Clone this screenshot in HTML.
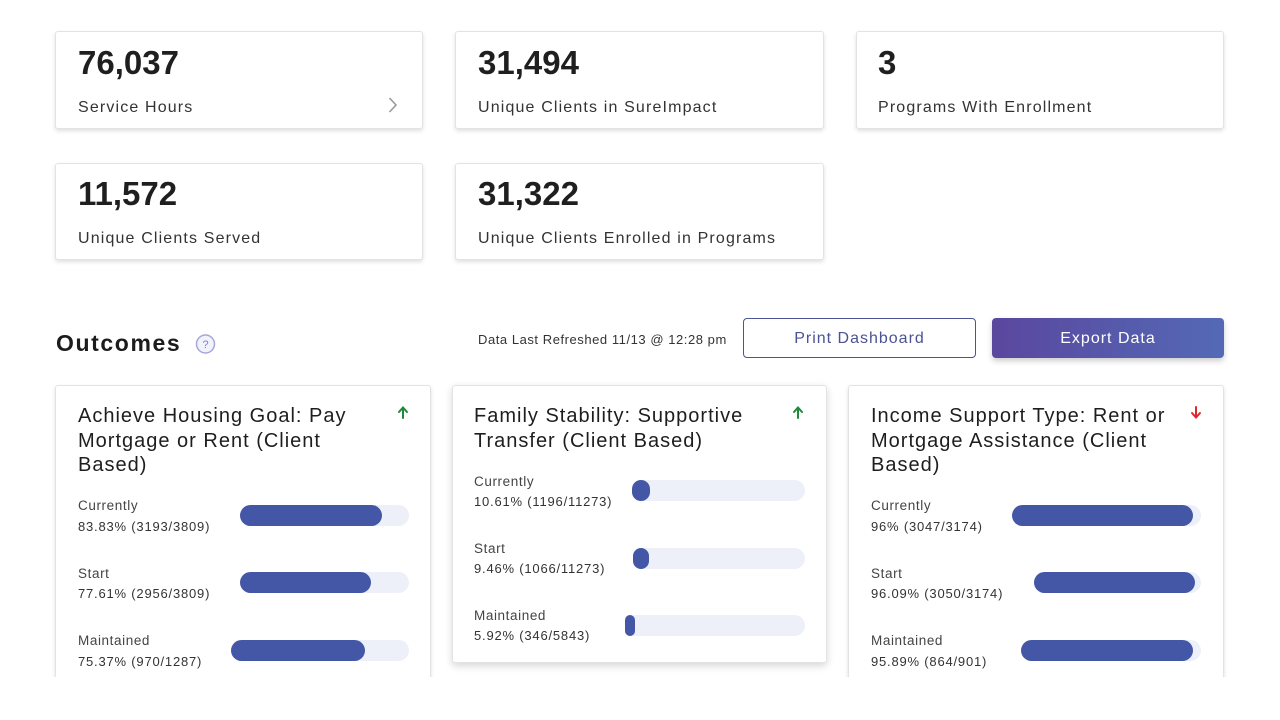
<!DOCTYPE html>
<html>
<head>
<meta charset="utf-8">
<style>
  html, body { margin:0; padding:0; background:#fff; }
  body { width:1280px; height:720px; position:relative; overflow:hidden;
         font-family:"Liberation Sans", sans-serif; color:#2a2a2a; }
  #clip { position:absolute; left:0; top:0; width:1280px; height:677px; overflow:hidden; }
  .card { position:absolute; background:#fff; border:1px solid #e3e3e3; border-radius:3px;
          box-shadow:0 2px 4px rgba(0,0,0,0.13); box-sizing:border-box; }
  .t { position:absolute; white-space:nowrap; line-height:1; }
  .num { font-size:33px; font-weight:bold; color:#1f1f1f; }
  .lbl { font-size:16px; letter-spacing:1.15px; color:#333; }
  .title { position:absolute; white-space:nowrap; font-size:20px; line-height:24.5px; letter-spacing:1px; color:#1e1e1e; }
  .rl { font-size:13.5px; letter-spacing:0.6px; color:#444; }
  .rv { font-size:13px; letter-spacing:0.8px; color:#333; }
  .track { position:absolute; height:21px; border-radius:11px; background:#edf0f8; }
  .fill { position:absolute; left:0; top:0; height:21px; border-radius:11px; background:#4457a6; }
  .btn { position:absolute; top:318px; height:40px; box-sizing:border-box; border-radius:4px;
         display:flex; align-items:center; justify-content:center; font-size:16px; letter-spacing:1px; padding-top:1px; }
</style>
</head>
<body>
<div id="clip">

  <!-- Top stat cards -->
  <div class="card" style="left:55px;top:31px;width:368px;height:98px;"></div>
  <div class="card" style="left:455px;top:31px;width:369px;height:98px;"></div>
  <div class="card" style="left:856px;top:31px;width:368px;height:98px;"></div>
  <div class="card" style="left:55px;top:163px;width:368px;height:97px;"></div>
  <div class="card" style="left:455px;top:163px;width:369px;height:97px;"></div>

  <div class="t num" style="left:78px;top:46px;">76,037</div>
  <div class="t lbl" style="left:78px;top:100px;">Service Hours</div>
  <svg style="position:absolute;left:0;top:0;" width="1280" height="677">
    <polyline points="389.5,98 396,105 389.5,112" fill="none" stroke="#9a9a9a" stroke-width="1.6"/>
  </svg>

  <div class="t num" style="left:478px;top:46px;">31,494</div>
  <div class="t lbl" style="left:478px;top:100px;">Unique Clients in SureImpact</div>

  <div class="t num" style="left:878px;top:46px;">3</div>
  <div class="t lbl" style="left:878px;top:100px;">Programs With Enrollment</div>

  <div class="t num" style="left:78px;top:177px;">11,572</div>
  <div class="t lbl" style="left:78px;top:231px;">Unique Clients Served</div>

  <div class="t num" style="left:478px;top:177px;">31,322</div>
  <div class="t lbl" style="left:478px;top:231px;">Unique Clients Enrolled in Programs</div>

  <!-- Outcomes header -->
  <div class="t" style="left:56px;top:332px;font-size:23px;font-weight:bold;letter-spacing:1.6px;color:#1c1c1c;">Outcomes</div>
  <svg style="position:absolute;left:194px;top:333px;" width="24" height="24">
    <circle cx="11.5" cy="11" r="9" fill="#f1f2fb" stroke="#a4a8d8" stroke-width="1.5"/>
    <text x="11.5" y="15" text-anchor="middle" font-family="Liberation Sans, sans-serif" font-size="11" fill="#7f84c4">?</text>
  </svg>
  <div class="t" style="left:478px;top:333px;font-size:13px;letter-spacing:0.55px;color:#333;">Data Last Refreshed 11/13 @ 12:28 pm</div>

  <div class="btn" style="left:743px;width:233px;border:1px solid #4d5494;color:#4b5394;background:#fff;">Print Dashboard</div>
  <div class="btn" style="left:992px;width:232px;color:#fff;background:linear-gradient(to right,#5a479e,#5469b6);box-shadow:0 3px 6px rgba(0,0,0,0.2);">Export Data</div>

  <!-- Outcome cards -->
  <div class="card" style="left:55px;top:385px;width:376px;height:330px;"></div>
  <div class="card" style="left:452px;top:385px;width:375px;height:278px;box-shadow:0 3px 8px rgba(0,0,0,0.16);"></div>
  <div class="card" style="left:848px;top:385px;width:376px;height:330px;"></div>

  <!-- arrows -->
  <svg style="position:absolute;left:0;top:0;" width="1280" height="677">
    <g stroke="#1e8a3c" stroke-width="2" fill="none" stroke-linecap="round">
      <line x1="403" y1="418" x2="403" y2="408"/>
      <polyline points="399,412 403,407.5 407,412"/>
      <line x1="798" y1="418" x2="798" y2="408"/>
      <polyline points="794,412 798,407.5 802,412"/>
    </g>
    <g stroke="#e0262b" stroke-width="2" fill="none" stroke-linecap="round">
      <line x1="1196" y1="407" x2="1196" y2="417"/>
      <polyline points="1192,413 1196,417.5 1200,413"/>
    </g>
  </svg>

  <!-- Card 1 -->
  <div class="title" style="left:78px;top:404px;">Achieve Housing Goal: Pay<br>Mortgage or Rent (Client<br>Based)</div>
  <div class="t rl" style="left:78px;top:498.5px;">Currently</div>
  <div class="t rv" style="left:78px;top:520px;">83.83% (3193/3809)</div>
  <div class="track" style="left:240px;top:505px;width:169px;"><div class="fill" style="width:142px;"></div></div>
  <div class="t rl" style="left:78px;top:566.5px;">Start</div>
  <div class="t rv" style="left:78px;top:587px;">77.61% (2956/3809)</div>
  <div class="track" style="left:240px;top:572px;width:169px;"><div class="fill" style="width:131px;"></div></div>
  <div class="t rl" style="left:78px;top:633.5px;">Maintained</div>
  <div class="t rv" style="left:78px;top:654.5px;">75.37% (970/1287)</div>
  <div class="track" style="left:231px;top:640px;width:178px;"><div class="fill" style="width:134px;"></div></div>

  <!-- Card 2 -->
  <div class="title" style="left:474px;top:404px;">Family Stability: Supportive<br>Transfer (Client Based)</div>
  <div class="t rl" style="left:474px;top:474.5px;">Currently</div>
  <div class="t rv" style="left:474px;top:495px;">10.61% (1196/11273)</div>
  <div class="track" style="left:632px;top:480px;width:173px;"><div class="fill" style="width:18px;"></div></div>
  <div class="t rl" style="left:474px;top:541.5px;">Start</div>
  <div class="t rv" style="left:474px;top:561.5px;">9.46% (1066/11273)</div>
  <div class="track" style="left:633px;top:548px;width:172px;"><div class="fill" style="width:16px;"></div></div>
  <div class="t rl" style="left:474px;top:608.5px;">Maintained</div>
  <div class="t rv" style="left:474px;top:629px;">5.92% (346/5843)</div>
  <div class="track" style="left:625px;top:615px;width:180px;"><div class="fill" style="width:10px;border-radius:5px;"></div></div>

  <!-- Card 3 -->
  <div class="title" style="left:871px;top:404px;">Income Support Type: Rent or<br>Mortgage Assistance (Client<br>Based)</div>
  <div class="t rl" style="left:871px;top:498.5px;">Currently</div>
  <div class="t rv" style="left:871px;top:520px;">96% (3047/3174)</div>
  <div class="track" style="left:1012px;top:505px;width:189px;"><div class="fill" style="width:181px;"></div></div>
  <div class="t rl" style="left:871px;top:566.5px;">Start</div>
  <div class="t rv" style="left:871px;top:587px;">96.09% (3050/3174)</div>
  <div class="track" style="left:1034px;top:572px;width:167px;"><div class="fill" style="width:161px;"></div></div>
  <div class="t rl" style="left:871px;top:633.5px;">Maintained</div>
  <div class="t rv" style="left:871px;top:654.5px;">95.89% (864/901)</div>
  <div class="track" style="left:1021px;top:640px;width:180px;"><div class="fill" style="width:172px;"></div></div>

</div>
</body>
</html>
